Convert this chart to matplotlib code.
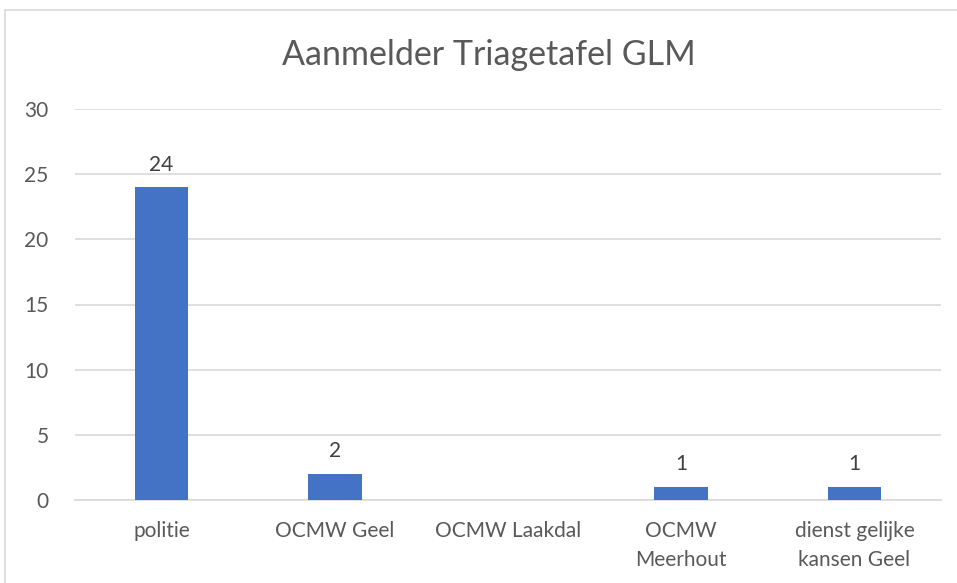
import numpy as np
import matplotlib
matplotlib.use("Agg")
import matplotlib.pyplot as plt
from matplotlib.patches import Rectangle

# data
categories = ["politie", "OCMW Geel", "OCMW Laakdal", "OCMW\nMeerhout", "dienst gelijke\nkansen Geel"]
values = [24, 2, np.nan, 1, 1]   # Laakdal: leeg
title = "Aanmelder Triagetafel GLM"
yticks = [0, 5, 10, 15, 20, 25, 30]

plt.rcParams['font.family'] = ['Lato', 'DejaVu Sans']

fig = plt.figure(figsize=(9.57, 5.83), dpi=100)
ax = fig.add_axes([75/957, 1-500/583, (941-75)/957, (500-109)/583])

x = np.arange(len(categories))
bars = ax.bar(x, values, width=0.31, color="#4472C4", zorder=3)

for xi, v in zip(x, values):
    if np.isnan(v):
        continue
    ax.annotate(str(int(v)), (xi, v), xytext=(0, 9), textcoords="offset points",
                ha="center", va="bottom", fontsize=15, color="#404040")

ax.set_xlim(-0.5, len(categories)-0.5)
ax.set_ylim(0, 30)
ax.set_yticks(yticks)
ax.set_xticks(x)
ax.set_xticklabels(categories, fontsize=15, color="#595959", linespacing=1.6)
ax.tick_params(axis='y', labelsize=15, labelcolor="#595959", length=0, pad=19)
ax.tick_params(axis='x', length=0, pad=15)
for lab in ax.get_yticklabels():
    lab.set_horizontalalignment('right')

ax.grid(axis='y', color="#d9d9d9", linewidth=1.2, zorder=0)
for s in ['top', 'right', 'left']:
    ax.spines[s].set_visible(False)
ax.spines['bottom'].set_color("#d9d9d9")
ax.spines['bottom'].set_linewidth(1.2)

fig.text(489/957, 1-55/583, title, ha="center", va="center", fontsize=24.5, color="#595959")

# chart frame (cut off at right and bottom)
fig.patches.append(Rectangle((5/957, -0.05), 1.0, 1.05 - 10/583, transform=fig.transFigure,
                             fill=False, edgecolor="#d9d9d9", linewidth=1.2))

fig.savefig("out.png", dpi=100)
